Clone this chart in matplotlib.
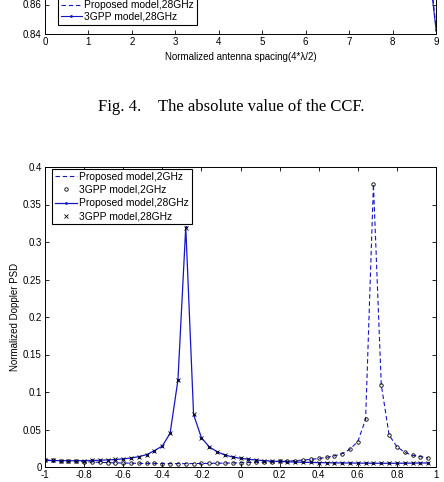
#Imports
import numpy as np
import matplotlib
matplotlib.use('Agg')
import matplotlib.pyplot as plt

plt.rcParams['font.family'] = ['Liberation Sans', 'DejaVu Sans']

#Data for the lower part of Fig. 4 (only the tail near spacing 9 is visible)
spacing = [7.0, 8.0, 8.5, 8.8, 9.0]
ccf_proposed_28 = [1.0, 0.98, 0.95, 0.90, 0.845]
ccf_3gpp_28 = [1.0, 0.98, 0.95, 0.895, 0.843]

#Data for the Doppler PSD figure
freq = np.round(np.arange(-1.0, 0.97, 0.04), 2)

psd_proposed_2 = [0.0095, 0.0090, 0.0085, 0.0080, 0.0075, 0.0070, 0.0066, 0.0062, 0.0058, 0.0055,
                  0.0053, 0.0051, 0.0049, 0.0048, 0.0047, 0.0046, 0.0045, 0.0045, 0.0045, 0.0046,
                  0.0047, 0.0048, 0.0050, 0.0052, 0.0054, 0.0057, 0.0060, 0.0063, 0.0066, 0.0070,
                  0.0074, 0.0079, 0.0085, 0.0092, 0.0101, 0.0113, 0.0128, 0.0148, 0.0178, 0.0238,
                  0.0338, 0.0636, 0.3770, 0.1100, 0.0427, 0.0270, 0.0196, 0.0156, 0.0138, 0.0120]
psd_3gpp_2 = [0.0096, 0.0090, 0.0084, 0.0080, 0.0075, 0.0071, 0.0066, 0.0061, 0.0058, 0.0055,
              0.0053, 0.0051, 0.0049, 0.0048, 0.0047, 0.0046, 0.0045, 0.0045, 0.0045, 0.0046,
              0.0047, 0.0048, 0.0050, 0.0052, 0.0055, 0.0057, 0.0060, 0.0063, 0.0067, 0.0070,
              0.0074, 0.0079, 0.0085, 0.0093, 0.0101, 0.0114, 0.0129, 0.0148, 0.0178, 0.0240,
              0.0338, 0.0634, 0.3780, 0.1095, 0.0428, 0.0270, 0.0195, 0.0157, 0.0137, 0.0121]
psd_proposed_28 = [0.0088, 0.0086, 0.0085, 0.0084, 0.0084, 0.0085, 0.0087, 0.0090, 0.0094, 0.0100,
                   0.0108, 0.0120, 0.0138, 0.0165, 0.0218, 0.0280, 0.0450, 0.1160, 0.3200, 0.0700,
                   0.0390, 0.0270, 0.0204, 0.0160, 0.0133, 0.0116, 0.0103, 0.0093, 0.0085, 0.0079,
                   0.0074, 0.0070, 0.0066, 0.0063, 0.0061, 0.0059, 0.0057, 0.0055, 0.0054, 0.0053,
                   0.0052, 0.0051, 0.0050, 0.0050, 0.0050, 0.0050, 0.0051, 0.0052, 0.0053, 0.0054]
psd_3gpp_28 = [0.0088, 0.0087, 0.0085, 0.0084, 0.0084, 0.0085, 0.0087, 0.0090, 0.0094, 0.0101,
               0.0108, 0.0121, 0.0138, 0.0166, 0.0217, 0.0281, 0.0452, 0.1155, 0.3190, 0.0702,
               0.0390, 0.0271, 0.0204, 0.0160, 0.0134, 0.0116, 0.0103, 0.0093, 0.0085, 0.0079,
               0.0074, 0.0070, 0.0066, 0.0063, 0.0061, 0.0059, 0.0057, 0.0055, 0.0054, 0.0053,
               0.0052, 0.0051, 0.0050, 0.0050, 0.0050, 0.0050, 0.0051, 0.0052, 0.0053, 0.0054]

labels = ['Proposed model,2GHz', '3GPP model,2GHz', 'Proposed model,28GHz', '3GPP model,28GHz']

blue = '#1515c8'
dash = (4, 2.5)
W, H = 444.0, 482.0

fig = plt.figure(figsize=(4.44, 4.82), dpi=100)

def style_axes(ax):
	ax.tick_params(direction='in', top=True, right=True, length=3, width=0.6, labelsize=7, pad=2.5)
	for s in ax.spines.values():
		s.set_linewidth(0.7)

#upper figure (cut off, only its bottom is visible)
ax1 = fig.add_axes([45 / W, (H - 34) / H, 391 / W, 236 / H])
l_3gpp, = ax1.plot(spacing, ccf_3gpp_28, '-', color=blue, lw=0.8, marker='.', ms=2)
l_prop, = ax1.plot(spacing, ccf_proposed_28, '--', dashes=dash, color=blue, lw=0.8)
ax1.set_xlim(0, 9)
ax1.set_ylim(0.84, 1.0)
ax1.set_xticks(range(10))
ax1.set_yticks([0.84, 0.86, 0.88, 0.9, 0.92, 0.94, 0.96, 0.98, 1.0])
ax1.set_yticklabels(['0.84', '0.86', '', '', '', '', '', '', ''])
style_axes(ax1)
ax1.set_xlabel('Normalized antenna spacing(4*\u03bb/2)', fontsize=7, labelpad=3)
leg1 = fig.legend([l_prop, l_3gpp], labels[2:], loc='lower left',
	bbox_to_anchor=(58 / W, (H - 25) / H), bbox_transform=fig.transFigure,
	fontsize=7.4, handlelength=2.0, handletextpad=0.2, labelspacing=0.15,
	borderpad=0.3, borderaxespad=0, fancybox=False, edgecolor='k', framealpha=1)
leg1.get_frame().set_linewidth(0.8)

#caption
fig.text(98 / W, 1 - 107 / H, 'Fig. 4.', family='Liberation Serif', fontsize=12, ha='left', va='center')
fig.text(158 / W, 1 - 107 / H, 'The absolute value of the CCF.', family='Liberation Serif',
	fontsize=12, ha='left', va='center')

#Doppler PSD figure
ax2 = fig.add_axes([45 / W, (H - 467) / H, 391 / W, 300 / H])
ax2.plot(freq, psd_proposed_2, '--', dashes=dash, color=blue, lw=0.8, label=labels[0])
ax2.plot(freq, psd_3gpp_2, 'o', color='k', mfc='none', ms=2.5, mew=0.6, label=labels[1])
ax2.plot(freq, psd_proposed_28, '-', color=blue, lw=0.9, marker='.', ms=2, label=labels[2])
ax2.plot(freq, psd_3gpp_28, 'x', color='k', ms=2.2, mew=0.6, label=labels[3])
ax2.set_xlim(-1, 1)
ax2.set_ylim(0, 0.4)
ax2.set_xticks([-1, -0.8, -0.6, -0.4, -0.2, 0, 0.2, 0.4, 0.6, 0.8, 1])
ax2.set_xticklabels(['-1', '-0.8', '-0.6', '-0.4', '-0.2', '0', '0.2', '0.4', '0.6', '0.8', '1'])
ax2.set_yticks([0, 0.05, 0.1, 0.15, 0.2, 0.25, 0.3, 0.35, 0.4])
ax2.set_yticklabels(['0', '0.05', '0.1', '0.15', '0.2', '0.25', '0.3', '0.35', '0.4'])
style_axes(ax2)
ax2.set_ylabel('Normalized Doppler PSD', fontsize=7, labelpad=2)
leg2 = ax2.legend(loc='upper left', bbox_to_anchor=((52 - 45) / 391, (467 - 169) / 300),
	fontsize=7.4, handlelength=2.2, handletextpad=0.2, labelspacing=0.32,
	borderpad=0.25, borderaxespad=0, fancybox=False, edgecolor='k', framealpha=1)
leg2.get_frame().set_linewidth(0.8)

fig.savefig('out.png', dpi=100)
